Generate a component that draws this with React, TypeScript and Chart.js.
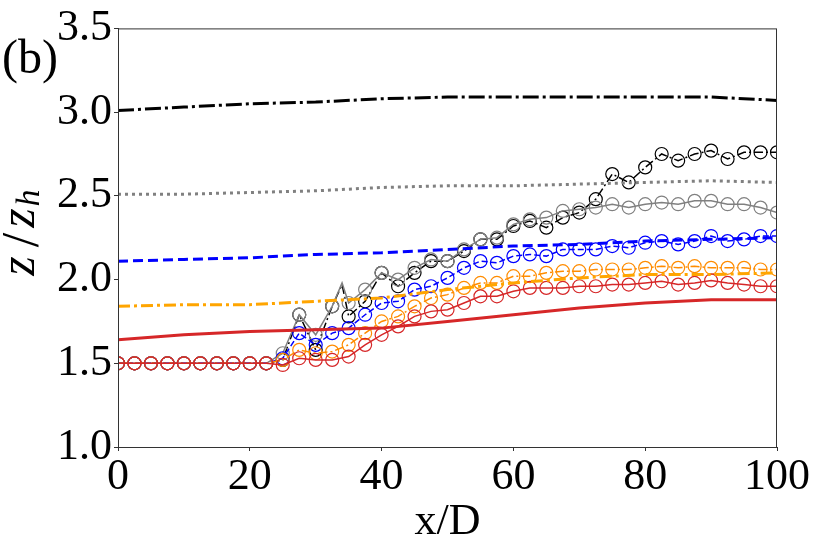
import React, { useEffect, useRef } from "react";
import { Chart, registerables } from "chart.js";

Chart.register(...registerables);

// thick (no-marker) profiles
const xLine = [0, 10, 20, 30, 40, 50, 60, 70, 80, 90, 100];
const blackThick = [3.01, 3.03, 3.05, 3.06, 3.08, 3.09, 3.09, 3.09, 3.09, 3.09, 3.07];
const grayThick = [2.51, 2.51, 2.52, 2.53, 2.55, 2.56, 2.56, 2.57, 2.58, 2.59, 2.58];
const blueThick = [2.11, 2.12, 2.13, 2.15, 2.16, 2.18, 2.2, 2.21, 2.23, 2.24, 2.25];
const orangeThick = [1.84, 1.85, 1.85, 1.87, 1.89, 1.94, 1.98, 2.01, 2.03, 2.03, 2.04];
const redThick = [1.64, 1.67, 1.69, 1.7, 1.71, 1.75, 1.79, 1.83, 1.86, 1.88, 1.88];

// marker profiles
const xMarks = [
  0, 2.5, 5, 7.5, 10, 12.5, 15, 17.5, 20, 22.5, 25, 27.5, 30, 32.5, 35, 37.5, 40, 42.5, 45, 47.5,
  50, 52.5, 55, 57.5, 60, 62.5, 65, 67.5, 70, 72.5, 75, 77.5, 80, 82.5, 85, 87.5, 90, 92.5, 95, 97.5, 100,
];
const blackMarks = [
  1.5, 1.5, 1.5, 1.5, 1.5, 1.5, 1.5, 1.5, 1.5, 1.5,
  1.52, 1.79, 1.58, 1.84, 1.78, 1.87, 2.04, 1.96, 2.04, 2.11, 2.11, 2.17, 2.24, 2.24, 2.32, 2.35,
  2.31, 2.37, 2.4, 2.48, 2.63, 2.58, 2.67, 2.75, 2.71, 2.75, 2.77, 2.72, 2.76, 2.76, 2.76,
];
const grayMarks = [
  1.5, 1.5, 1.5, 1.5, 1.5, 1.5, 1.5, 1.5, 1.5, 1.5,
  1.56, 1.79, 1.67, 1.84, 1.86, 1.94, 2.04, 2.0, 2.07, 2.12, 2.11, 2.18, 2.24, 2.25, 2.33, 2.36,
  2.37, 2.41, 2.42, 2.43, 2.45, 2.43, 2.45, 2.46, 2.45, 2.47, 2.47, 2.45, 2.45, 2.43, 2.4,
];
const blueMarks = [
  1.5, 1.5, 1.5, 1.5, 1.5, 1.5, 1.5, 1.5, 1.5, 1.5,
  1.53, 1.68, 1.61, 1.68, 1.71, 1.79, 1.86, 1.87, 1.94, 1.96, 2.01, 2.07, 2.11, 2.1, 2.14, 2.15,
  2.14, 2.18, 2.18, 2.18, 2.2, 2.19, 2.22, 2.23, 2.21, 2.23, 2.26, 2.23, 2.24, 2.26, 2.26,
];
const orangeMarks = [
  1.5, 1.5, 1.5, 1.5, 1.5, 1.5, 1.5, 1.5, 1.5, 1.5,
  1.52, 1.58, 1.56, 1.57, 1.61, 1.68, 1.75, 1.78, 1.84, 1.89, 1.91, 1.95, 1.98, 1.98, 2.02, 2.02,
  2.04, 2.05, 2.05, 2.06, 2.06, 2.06, 2.07, 2.08, 2.07, 2.08, 2.07, 2.07, 2.07, 2.06, 2.06,
];
const redMarks = [
  1.5, 1.5, 1.5, 1.5, 1.5, 1.5, 1.5, 1.5, 1.5, 1.5,
  1.49, 1.53, 1.52, 1.52, 1.54, 1.61, 1.67, 1.72, 1.78, 1.81, 1.82, 1.86, 1.9, 1.9, 1.93, 1.95,
  1.95, 1.95, 1.96, 1.96, 1.97, 1.97, 1.98, 1.99, 1.97, 1.98, 1.995, 1.98, 1.97, 1.96, 1.96,
];
// unmarked spike points between markers
const blackSpikeX = [34];
const blackSpikeY = [1.97];
const graySpikeX = [34];
const graySpikeY = [1.98];

const xTicks = [0, 20, 40, 60, 80, 100];
const yTicks = [1.0, 1.5, 2.0, 2.5, 3.0, 3.5];

const FONT = "'Liberation Serif', 'DejaVu Serif', serif";

type P = { x: number; y: number; m: boolean };
function pts(xs: number[], ys: number[], ex: number[] = [], ey: number[] = []): P[] {
  const a: P[] = xs.map((x, i) => ({ x, y: ys[i], m: true }));
  ex.forEach((x, i) => a.push({ x, y: ey[i], m: false }));
  a.sort((p, q) => p.x - q.x);
  return a;
}

const textPlugin = {
  id: "texts",
  afterDraw(chart: any) {
    const { ctx, chartArea } = chart;
    ctx.save();
    // box
    ctx.strokeStyle = "#333";
    ctx.lineWidth = 1;
    ctx.strokeRect(chartArea.left + 0.5, chartArea.top + 0.5, chartArea.right - chartArea.left - 1, chartArea.bottom - chartArea.top);
    ctx.fillStyle = "#000";
    // panel label
    ctx.font = `48px ${FONT}`;
    ctx.textAlign = "left";
    ctx.textBaseline = "middle";
    ctx.fillText("(b)", 2, 60);
    // x title
    ctx.font = `44px ${FONT}`;
    ctx.textAlign = "center";
    ctx.fillText("x/D", (chartArea.left + chartArea.right) / 2, 522);
    // y title z/z_h rotated
    ctx.translate(34, 0);
    ctx.rotate(-Math.PI / 2);
    ctx.textBaseline = "alphabetic";
    ctx.textAlign = "center";
    ctx.font = `italic 50px ${FONT}`;
    ctx.fillText("z", -266, 0);
    ctx.font = `52px ${FONT}`;
    ctx.fillText("/", -240, 4);
    ctx.font = `italic 50px ${FONT}`;
    ctx.fillText("z", -218, 0);
    ctx.font = `italic 34px ${FONT}`;
    ctx.fillText("h", -198, 5);
    ctx.restore();
  },
};

export default function App() {
  const ref = useRef<HTMLCanvasElement>(null);
  useEffect(() => {
    if (!ref.current) return;
    const mk = (c: string) => ({
      pointStyle: "circle",
      pointRadius: (ctx: any) => (ctx.raw && ctx.raw.m ? 6.5 : 0),
      pointBorderColor: c,
      pointBackgroundColor: "rgba(0,0,0,0)",
      pointBorderWidth: 1.2,
    });
    const chart = new Chart(ref.current, {
      type: "line",
      data: {
        datasets: [
          { data: pts(xLine, redThick), borderColor: "#d62728", borderWidth: 3, pointRadius: 0 },
          { data: pts(xLine, orangeThick), borderColor: "#ffa500", borderWidth: 3, borderDash: [12, 4, 3, 4], pointRadius: 0 },
          { data: pts(xLine, blueThick), borderColor: "#0000ff", borderWidth: 3, borderDash: [10, 5], pointRadius: 0 },
          { data: pts(xLine, grayThick), borderColor: "#808080", borderWidth: 3, borderDash: [3, 4], pointRadius: 0 },
          { data: pts(xLine, blackThick), borderColor: "#000000", borderWidth: 3, borderDash: [16, 4, 3, 4], pointRadius: 0 },
          { data: pts(xMarks, redMarks), borderColor: "#d62728", borderWidth: 1.5, ...mk("#d62728") },
          { data: pts(xMarks, orangeMarks), borderColor: "#ff8c00", borderWidth: 1.5, borderDash: [9, 3, 2, 3], ...mk("#ff8c00") },
          { data: pts(xMarks, blueMarks), borderColor: "#0000ff", borderWidth: 1.5, borderDash: [6, 3], ...mk("#0000ff") },
          { data: pts(xMarks, grayMarks, graySpikeX, graySpikeY), borderColor: "#808080", borderWidth: 1.5, ...mk("#808080") },
          { data: pts(xMarks, blackMarks, blackSpikeX, blackSpikeY), borderColor: "#000000", borderWidth: 1.5, borderDash: [9, 3, 2, 3], ...mk("#000000") },
        ].map((d: any) => ({ ...d, fill: false, tension: 0, clip: 0 })),
      },
      options: {
        animation: false,
        responsive: false,
        devicePixelRatio: 1,
        layout: { padding: { top: 20, right: 53, left: 0, bottom: 0 } },
        plugins: { legend: { display: false }, tooltip: { enabled: false } },
        events: [],
        scales: {
          x: {
            type: "linear",
            min: 0,
            max: 100,
            afterBuildTicks: (s: any) => { s.ticks = xTicks.map((v) => ({ value: v })); },
            afterFit: (s: any) => { s.height = 107; },
            grid: { drawOnChartArea: false, drawTicks: true, tickLength: 4, color: "#333" },
            border: { display: true, color: "#333", width: 1 },
            ticks: { color: "#000", font: { family: FONT, size: 44 }, padding: 0, maxRotation: 0, autoSkip: false },
          },
          y: {
            type: "linear",
            min: 1,
            max: 3.5,
            afterBuildTicks: (s: any) => { s.ticks = yTicks.map((v) => ({ value: v })); },
            afterFit: (s: any) => { s.width = 118; },
            grid: { drawOnChartArea: false, drawTicks: true, tickLength: 4, color: "#333" },
            border: { display: true, color: "#333", width: 1 },
            ticks: { color: "#000", font: { family: FONT, size: 44 }, padding: 2, callback: (v: any) => Number(v).toFixed(1), autoSkip: false },
          },
        },
      },
      plugins: [textPlugin],
    } as any);
    return () => chart.destroy();
  }, []);
  return (
    <div style={{ position: "fixed", left: 0, top: 0, width: 830, height: 554, background: "#fff" }}>
      <canvas ref={ref} width={830} height={554} />
    </div>
  );
}
